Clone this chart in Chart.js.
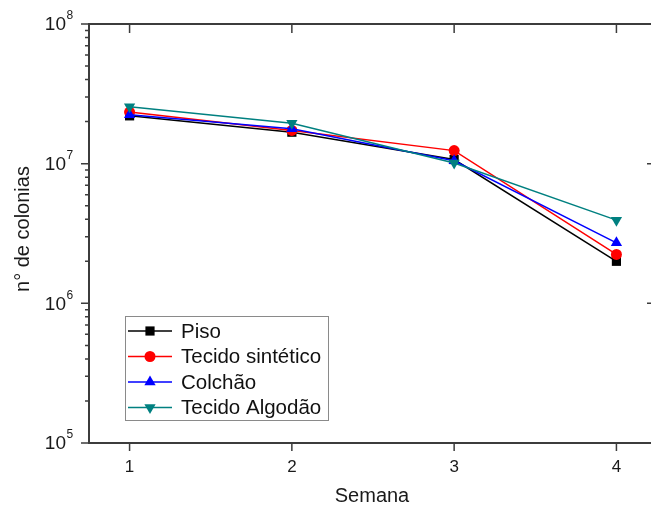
<!DOCTYPE html>
<html>
<head>
<meta charset="utf-8">
<script src="https://cdn.jsdelivr.net/npm/chart.js@4.4.1/dist/chart.umd.min.js"></script>
<style>
  html, body { margin: 0; padding: 0; background: #fff; overflow: hidden; }
  #wrap { width: 700px; height: 506px; }
</style>
</head>
<body>
<div id="wrap"><canvas id="colonias" width="700" height="506"></canvas></div>
<script>
// semanas e contagens (log)
const weeks = [1, 2, 3, 4];
const piso = [2.2e7, 1.68e7, 1.07e7, 2.0e6];
const sintetico = [2.34e7, 1.73e7, 1.24e7, 2.24e6];
const colchao = [2.24e7, 1.78e7, 1.05e7, 2.71e6];
const algodao = [2.56e7, 1.95e7, 1.01e7, 3.94e6];
const seriesNames = ["Piso", "Tecido sintético", "Colchão", "Tecido Algodão"];
const xTicks = [1, 2, 3, 4];
const yExponents = [5, 6, 7, 8];
const xTitle = "Semana";
const yTitle = "n° de colonias";

const FONT = "'Liberation Sans', Arial, sans-serif";
const AXIS = "#3c3c3c";

function pts(vals) {
    return weeks.map((w, i) => ({ x: w, y: vals[i] }));
}

function serie(label, vals, color, style, radius, rot, order) {
    return {
        label: label,
        data: pts(vals),
        borderColor: color,
        backgroundColor: color,
        borderWidth: 1.5,
        pointStyle: style,
        pointRadius: radius,
        pointRotation: rot,
        pointBorderWidth: 0,
        pointBackgroundColor: color,
        tension: 0,
        order: order
    };
}

// desenha eixos, ticks, titulos e legenda
const decorPlugin = {
    id: "decor",
    afterDatasetsDraw(chart) {
        const ctx = chart.ctx;
        const a = chart.chartArea;
        const xs = chart.scales.x;
        const ys = chart.scales.y;
        ctx.save();

        // moldura
        ctx.strokeStyle = AXIS;
        ctx.lineWidth = 2;
        ctx.strokeRect(a.left, a.top, a.right - a.left, a.bottom - a.top);

        // ticks y
        ctx.lineWidth = 1.5;
        ctx.beginPath();
        yExponents.forEach((e) => {
            const y = ys.getPixelForValue(Math.pow(10, e));
            ctx.moveTo(a.left - 8, y); ctx.lineTo(a.left, y);
            ctx.moveTo(a.right, y); ctx.lineTo(a.right - 10, y);
            if (e < yExponents[yExponents.length - 1]) {
                for (let m = 2; m <= 9; m++) {
                    const ym = ys.getPixelForValue(m * Math.pow(10, e));
                    ctx.moveTo(a.left - 4, ym); ctx.lineTo(a.left, ym);
                    ctx.moveTo(a.right, ym); ctx.lineTo(a.right - 5, ym);
                }
            }
        });
        // ticks x
        xTicks.forEach((t) => {
            const x = xs.getPixelForValue(t);
            ctx.moveTo(x, a.bottom); ctx.lineTo(x, a.bottom + 8);
            ctx.moveTo(x, a.top); ctx.lineTo(x, a.top + 9);
        });
        ctx.stroke();

        // rotulos x
        ctx.fillStyle = "#1a1a1a";
        ctx.font = "17px " + FONT;
        ctx.textAlign = "center";
        ctx.textBaseline = "middle";
        xTicks.forEach((t) => {
            ctx.fillText(String(t), xs.getPixelForValue(t), a.bottom + 24);
        });

        // rotulos y (10^n)
        yExponents.forEach((e) => {
            const y = ys.getPixelForValue(Math.pow(10, e));
            ctx.font = "19px " + FONT;
            ctx.textAlign = "right";
            ctx.textBaseline = "middle";
            ctx.fillText("10", 66, y + 1);
            ctx.font = "12px " + FONT;
            ctx.textAlign = "left";
            ctx.fillText(String(e), 66.5, y - 8);
        });

        // titulos
        ctx.font = "20px " + FONT;
        ctx.textAlign = "center";
        ctx.textBaseline = "middle";
        ctx.fillText(xTitle, 372, 496);
        ctx.save();
        ctx.translate(23, 229);
        ctx.rotate(-Math.PI / 2);
        ctx.fillText(yTitle, 0, 0);
        ctx.restore();

        // legenda
        const box = { x: 125, y: 316, w: 203, h: 104 };
        ctx.fillStyle = "#fff";
        ctx.fillRect(box.x, box.y, box.w, box.h);
        ctx.strokeStyle = "#8a8a8a";
        ctx.lineWidth = 1;
        ctx.strokeRect(box.x + 0.5, box.y + 0.5, box.w, box.h);
        chart.data.datasets.forEach((ds, i) => {
            const ry = 331 + i * 25.5;
            ctx.strokeStyle = ds.borderColor;
            ctx.lineWidth = 1.5;
            ctx.beginPath();
            ctx.moveTo(128, ry); ctx.lineTo(172, ry);
            ctx.stroke();
            ctx.fillStyle = ds.pointBackgroundColor;
            Chart.helpers.drawPoint(ctx, {
                pointStyle: ds.pointStyle,
                radius: ds.pointRadius,
                rotation: ds.pointRotation,
                borderWidth: 0
            }, 150, ry);
            ctx.fillStyle = "#111";
            ctx.font = "20.5px " + FONT;
            ctx.textAlign = "left";
            ctx.textBaseline = "middle";
            ctx.fillText(ds.label, 181, ry + 1);
        });
        ctx.restore();
    }
};

new Chart(document.getElementById("colonias"), {
    type: "line",
    data: {
        datasets: [
            serie(seriesNames[0], piso, "#000000", "rect", 6.5, 0, 4),
            serie(seriesNames[1], sintetico, "#ff0000", "circle", 5.5, 0, 3),
            serie(seriesNames[2], colchao, "#0000ff", "triangle", 6.5, 0, 2),
            serie(seriesNames[3], algodao, "#008080", "triangle", 6.5, 180, 1)
        ]
    },
    options: {
        responsive: false,
        animation: false,
        layout: { padding: { left: 89, top: 24, right: 43, bottom: 63 } },
        scales: {
            x: { type: "linear", min: 0.75, max: 4.25, display: false },
            y: { type: "logarithmic", min: 1e5, max: 1e8, display: false }
        },
        plugins: {
            legend: { display: false },
            tooltip: { enabled: false }
        }
    },
    plugins: [decorPlugin]
});
</script>
</body>
</html>
